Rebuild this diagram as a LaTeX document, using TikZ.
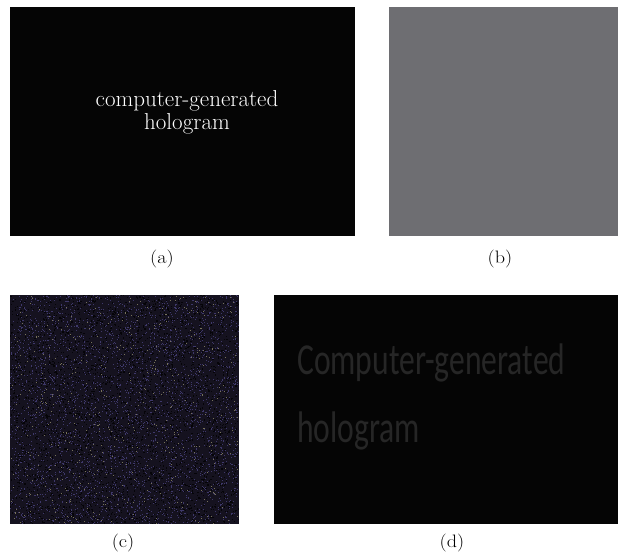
\documentclass[tikz,border=0pt]{standalone}
\usepackage{fontspec}
\newfontfamily\calib{Carlito}
\definecolor{panelblack}{HTML}{050505}
\definecolor{panelgray}{HTML}{6E6E72}
\definecolor{noisebg}{HTML}{15121F}
\definecolor{noisedark}{HTML}{050408}
\definecolor{noisepurple}{HTML}{3E386A}
\definecolor{noiseyellow}{HTML}{77725A}
\definecolor{dimtext}{HTML}{262626}
\begin{document}
\begin{tikzpicture}[x=1pt,y=1pt,
  panel/.style={inner sep=0pt,outer sep=0pt,anchor=south west},
  caption/.style={inner sep=0pt,font=\fontsize{18}{20}\selectfont},
  atext/.style={inner sep=0pt,anchor=base,text=white,font=\fontsize{23}{26}\selectfont}]
\useasboundingbox[fill=white] (0,0) rectangle (619,554);
% panel a
\node[panel,fill=panelblack,minimum width=345,minimum height=229] (pa) at (10,318) {};
\node[atext] (ta1) at (187,447) {computer-generated};
\node[atext] (ta2) at (187,424) {hologram};
\node[caption] (ca) at (162,295) {\scalebox{1.12}[1]{(a)}};
% panel b
\node[panel,fill=panelgray,minimum width=229,minimum height=229] (pb) at (389,318) {};
\node[caption] (cb) at (500,295) {\scalebox{1.12}[1]{(b)}};
% panel c
\node[panel,fill=noisebg,minimum width=229,minimum height=229] (pc) at (10,30) {};
\pgfmathsetseed{7}
\foreach \i in {1,...,3500}{
  \pgfmathsetmacro{\px}{10+228*rnd}
  \pgfmathsetmacro{\py}{30+228*rnd}
  \fill[noisedark] (\px,\py) rectangle +(1.2,1.2);
}
\foreach \i in {1,...,3500}{
  \pgfmathsetmacro{\px}{10+228.2*rnd}
  \pgfmathsetmacro{\py}{30+228.2*rnd}
  \fill[noisepurple] (\px,\py) rectangle +(0.8,0.8);
}
\foreach \i in {1,...,500}{
  \pgfmathsetmacro{\px}{10+228.2*rnd}
  \pgfmathsetmacro{\py}{30+228.2*rnd}
  \fill[noiseyellow] (\px,\py) rectangle +(0.8,0.8);
}
\node[caption] (cc) at (123,11) {\scalebox{1.12}[1]{(c)}};
% panel d
\node[panel,fill=panelblack,minimum width=344,minimum height=229] (pd) at (274,30) {};
\node[anchor=base west,inner sep=0pt,text=dimtext] (td1) at (297,179) {\scalebox{1}[1.4]{\calib\fontsize{31.6}{36}\selectfont Computer-generated}};
\node[anchor=base west,inner sep=0pt,text=dimtext] (td2) at (297,111) {\scalebox{1}[1.4]{\calib\fontsize{31.6}{36}\selectfont hologram}};
\node[caption] (cd) at (452,11) {\scalebox{1.12}[1]{(d)}};
\end{tikzpicture}
\end{document}
